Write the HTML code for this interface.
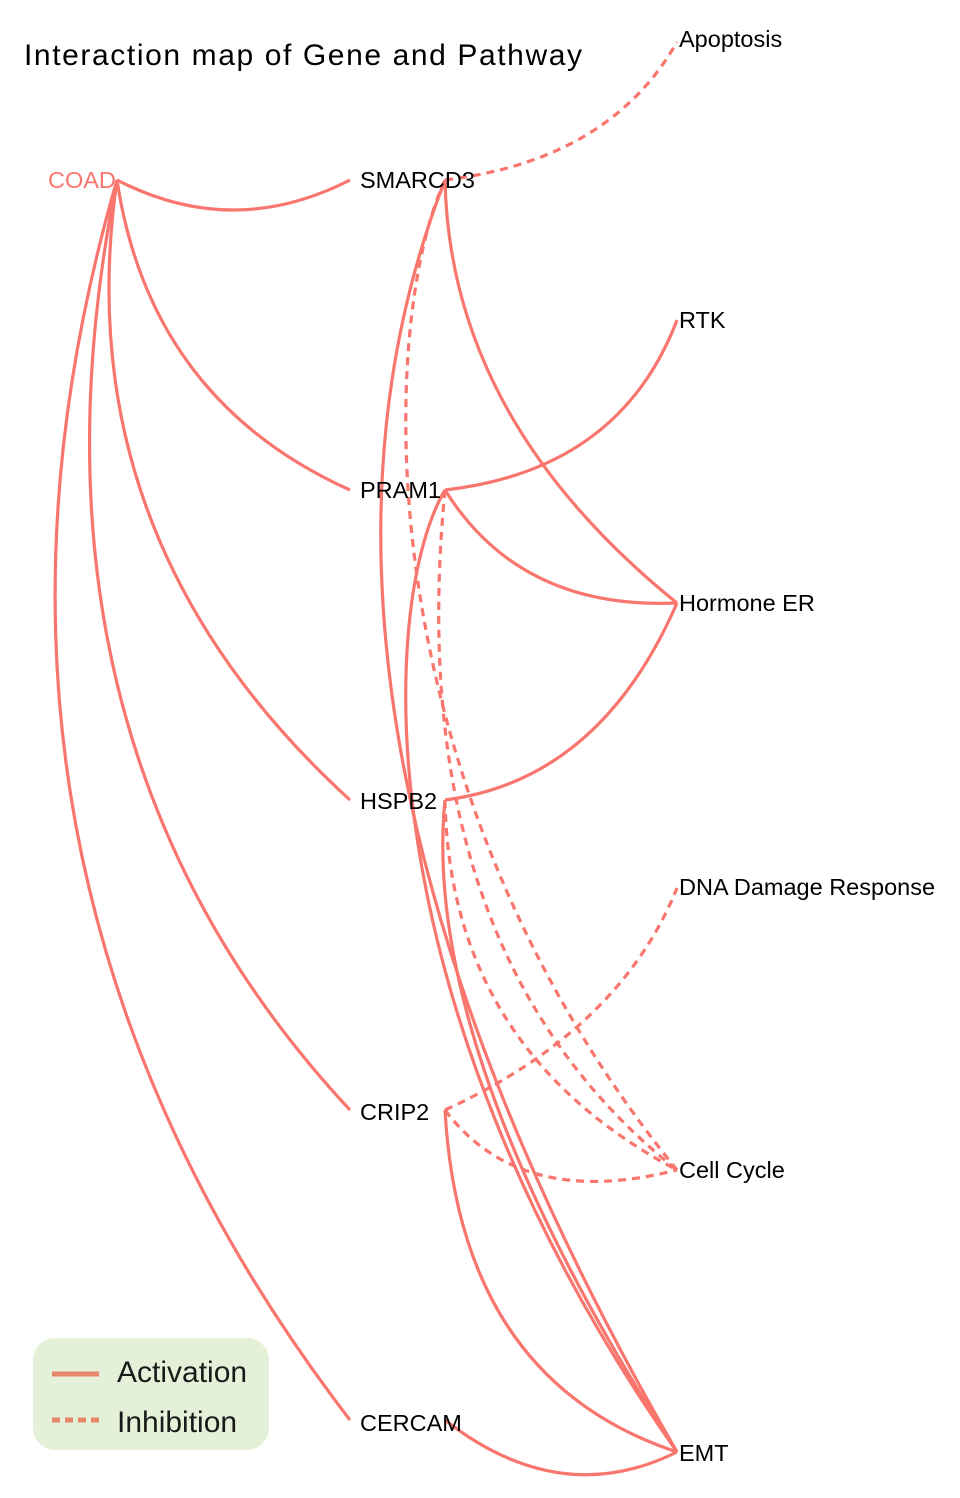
<!DOCTYPE html>
<html><head><meta charset="utf-8"><style>
html,body{margin:0;padding:0;background:#fff;}
svg{display:block;font-family:"Liberation Sans",sans-serif;}
</style></head><body>
<svg width="960" height="1498" viewBox="0 0 960 1498" xmlns="http://www.w3.org/2000/svg">
<rect width="960" height="1498" fill="#fff"/>
<text x="24" y="65" font-size="30" fill="#000" textLength="558">Interaction map of Gene and Pathway</text>
<g fill="none" stroke="#f8766d" stroke-width="3.2">
<path d="M117,180 Q233,240 350,180"/>
<path d="M117,180 Q150,400 350,490"/>
<path d="M117,180 Q65,540 350,800"/>
<path d="M117,180 Q5,740 350,1110"/>
<path d="M117,180 Q-80,860 350,1420"/>
<path d="M445,180 Q450,420 677,603"/>
<path d="M445,180 C340,450 330,850 677,1452"/>
<path d="M445,490 Q620,470 677,320"/>
<path d="M445,490 Q520,610 677,603"/>
<path d="M445,490 C380,600 360,1000 677,1452"/>
<path d="M445,800 Q600,780 677,603"/>
<path d="M445,800 C435,900 450,1100 677,1452"/>
<path d="M445,1110 Q460,1380 677,1452"/>
<path d="M445,1420 Q560,1510 677,1452"/>
</g>
<g fill="none" stroke="#f8766d" stroke-width="3.2" stroke-dasharray="8,6">
<path d="M445,180 Q610,160 677,42"/>
<path d="M445,180 C380,320 360,780 677,1170"/>
<path d="M445,490 Q400,950 677,1170"/>
<path d="M445,800 Q450,1050 677,1170"/>
<path d="M445,1110 Q620,1030 677,888"/>
<path d="M445,1110 Q520,1210 677,1170"/>
</g>
<g font-size="23.5" fill="#000">
<text x="48" y="188" fill="#f8766d">COAD</text>
<text x="360" y="188">SMARCD3</text>
<text x="360" y="498">PRAM1</text>
<text x="360" y="809">HSPB2</text>
<text x="360" y="1120">CRIP2</text>
<text x="360" y="1431">CERCAM</text>
<text x="679" y="47">Apoptosis</text>
<text x="679" y="328">RTK</text>
<text x="679" y="611">Hormone ER</text>
<text x="679" y="895">DNA Damage Response</text>
<text x="679" y="1178">Cell Cycle</text>
<text x="679" y="1461">EMT</text>
</g>
<rect x="33" y="1338" width="236" height="112" rx="22" fill="#e5f0d8"/>
<line x1="52" y1="1374" x2="99" y2="1374" stroke="#e8866a" stroke-width="5"/>
<line x1="52" y1="1420" x2="99" y2="1420" stroke="#e8866a" stroke-width="5" stroke-dasharray="8,5"/>
<text x="117" y="1382" font-size="30" fill="#1a1a1a">Activation</text>
<text x="117" y="1432" font-size="30" fill="#1a1a1a">Inhibition</text>
</svg>
</body></html>
